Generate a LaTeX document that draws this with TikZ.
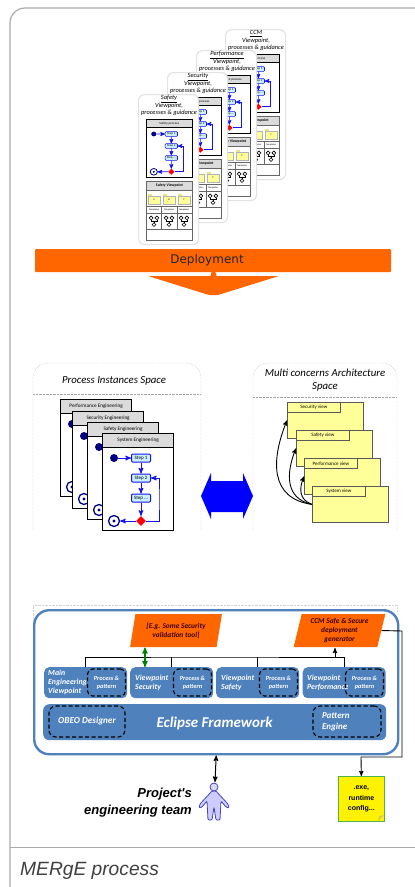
\documentclass[tikz,border=0pt]{standalone}
\usepackage{fontspec}
\setmainfont{Carlito}
\newfontfamily\arialfont{Liberation Sans}
\newfontfamily\dejafont{DejaVu Sans}
\usepackage{tikz}
\usetikzlibrary{arrows,positioning}
\usetikzlibrary{shapes.geometric}
\definecolor{framegray}{HTML}{ABABAB}
\definecolor{deployorange}{HTML}{FF6600}
\definecolor{mergeblue}{HTML}{4F81BD}
\definecolor{flowblue}{HTML}{1414F0}
\definecolor{flownavy}{HTML}{000080}
\definecolor{noteyellow}{HTML}{FFFF99}
\newcommand{\fsz}[1]{\fontsize{#1}{#1}\selectfont}
\newcommand{\fszb}[2]{\fontsize{#1}{#2}\selectfont}
\tikzset{
    %Define standard arrow tip
    >=stealth',
    %Define style for the dotted space panels
    spacebox/.style={
           draw=gray!70, densely dotted},
    %Define style for the cards
    cardframe/.style={
           rectangle,
           draw=black, line width=1.2pt,
           fill=white,
           inner sep=0pt,
           anchor=north west,
           minimum width=71,
           minimum height=97},
    cardhead/.style={
           cardframe,
           fill=gray!28,
           minimum height=14,
           font=\fsz{5.2}},
    stepbox/.style={
           rectangle,
           rounded corners=1pt,
           draw=flowblue, line width=1pt,
           fill=cyan!20,
           inner sep=0pt,
           minimum width=19,
           minimum height=8,
           font=\fsz{5}},
    startdot/.style={
           circle, fill=flownavy, inner sep=0pt, minimum size=8},
    enddot/.style={
           circle, draw=flownavy, line width=1.3pt, fill=white,
           inner sep=0pt, minimum size=11,
           path picture={\fill[flownavy] (path picture bounding box.center) circle (1.7);}},
    decision/.style={
           diamond, fill=red, inner sep=0pt, minimum size=10},
    % Define arrow style
    flow/.style={
           ->, draw=flowblue, line width=1pt},
    %Define viewpoint card styles
    cardpaper/.style={
           rectangle, rounded corners=6pt,
           draw=gray!22, line width=1.2pt,
           fill=white, inner sep=0pt, anchor=north west,
           minimum width=60, minimum height=150},
    smallcard/.style={
           xscale=.65, yscale=.6, transform shape,
           cardframe/.append style={line width=.7pt},
           stepbox/.append style={line width=.6pt},
           enddot/.append style={line width=.8pt},
           flow/.append style={line width=.7pt}},
    viewframe/.style={
           rectangle, draw=gray!80!black, line width=.8pt, fill=white,
           inner sep=0pt, anchor=north west},
    folderbox/.style={
           rectangle, fill=noteyellow, draw=gray!60, line width=.2pt,
           inner sep=0pt, minimum width=12, minimum height=8,
           font=\fsz{2.5}},
    %Define yellow views
    viewnote/.style={
           rectangle, draw=gray!70!black, line width=.8pt,
           fill=noteyellow, inner sep=0pt, anchor=north west,
           minimum width=76, minimum height=36},
    viewtab/.style={
           viewnote, minimum width=53, minimum height=10, font=\fsz{5}},
    %Define the blue tool boxes
    vpbox/.style={
           rectangle, rounded corners=5pt,
           fill=mergeblue, inner sep=0pt, anchor=north west,
           minimum width=83, minimum height=31},
    vptext/.style={
           text=white, align=left, inner sep=0pt, anchor=west,
           font=\bfseries\itshape\fszb{7.8}{9}},
    patternbox/.style={
           rectangle, rounded corners=5pt,
           draw=black, line width=1.1pt, dash pattern=on 4pt off 2.5pt,
           text=white, align=center, inner sep=0pt,
           font=\bfseries\itshape\fszb{6.3}{8},
           minimum width=38, minimum height=27},
    toolshape/.style={
           trapezium, trapezium left angle=75.6, trapezium right angle=104.4,
           trapezium stretches=true,
           fill=deployorange, inner sep=0pt, align=center,
           minimum width=92, minimum height=33,
           text=black!75!red,
           font=\bfseries\itshape\fszb{7.4}{8.8}},
    busline/.style={
           draw=black, line width=.9pt},
    pil/.style={
           <->, draw=black, line width=1pt},
    %Define the pictures used many times
    pics/procard/.style={code={
       \node[cardframe] (-box) at (0,0) {};
       \node[cardhead] (-head) at (0,0) {#1};
       \node[startdot] (-start) at (12,25) {};
       \node[stepbox] (-one) at (39,25) {Step 1};
       \node[stepbox] (-two) at (39,45) {Step 2};
       \node[stepbox] (-three) at (39,65) {Step ...};
       \node[decision] (-dec) at (39,88) {};
       \node[enddot] (-end) at (12,88) {};
       \coordinate (-back) at (57,66);
       \draw[flow] (-start) -- (-one);
       \draw[flow] (-one) -- (-two);
       \draw[flow] (-two) -- (-three);
       \draw[flow] (-three) -- (-dec);
       \draw[flow] (-dec) -- (-end);
       \draw[flow] (-dec) -| (-back) |- (-two);
    }},
    pics/tmplicon/.style={code={
       \draw[line width=.6pt, fill=white] (-2.4,-2.6) circle (1.6) (2.4,-2.6) circle (1.6) (0,3) circle (1.6);
       \draw[line width=.6pt] (-2.4,-1) -- (-2.4,.6) -- (2.4,.6) -- (2.4,-1) (0,.6) -- (0,1.4);
    }},
    pics/vpcard/.style={code={
       \node[cardpaper] (-paper) at (0,0) {};
       \node[align=center, inner sep=0pt, font=\itshape\fszb{6.4}{7.5}] (-title) at (31,11.5)
          {\underline{#1}\\Viewpoint,\\processes \& guidance};
       \pic[smallcard] (-flow) at (8,25) {procard={#1 process}};
       \node[viewframe, minimum width=46, minimum height=59] (-view) at (8,87) {};
       \node[viewframe, fill=gray!28, minimum width=46, minimum height=9, font=\bfseries\fsz{3.8}] (-viewhead) at (8,87) {#1 Viewpoint};
       \draw[gray!80!black, line width=.6pt] (8,112) -- (54,112) (8,135) -- (54,135);
       \draw[gray!80!black, line width=.3pt] (8,119) -- (54,119);
       \draw[gray!80!black, line width=.6pt] (23.5,112) -- (23.5,135) (39,112) -- (39,135);
       \foreach \cx/\cname/\clab in {16/a/A,31/b/B,46/c/C}{
          \fill[noteyellow!90!black] (\cx-6,100) rectangle (\cx-2,102);
          \node[folderbox] (-fold\cname) at (\cx,106) {\clab};
          \node[font=\fsz{2.4}, inner sep=0pt] (-tmpl\cname) at (\cx,115.5) {Templates};
          \pic[scale=1.2] (-icon\cname) at (\cx,127) {tmplicon};
       }
    }}
}

\begin{document}
\begin{tikzpicture}[x=1pt,y=-1pt]
 \useasboundingbox (0,0) rectangle (415,887);
 \clip (0,0) rectangle (415,887);
 \fill[white] (0,0) rectangle (415,887);
 % outer frame
 \draw[framegray, line width=1.2pt, rounded corners=15pt] (10,8) rectangle (440,905);
 \draw[framegray, line width=.9pt] (10,847) -- (415,847);
 \node[anchor=west, inner sep=0pt, text=black!75, font=\arialfont\itshape\fsz{19.2}] (caption) at (20,871) {MERgE process};

 %viewpoint cards, last one goes on top
 \pic (ccm) at (225,29) {vpcard={CCM}};
 \pic (perf) at (196,50) {vpcard={Performance}};
 \pic (sec) at (167,72) {vpcard={Security}};
 \pic (safe) at (138,94) {vpcard={Safety}};

 %deployment bar and its arrow
 \node[rectangle, fill=deployorange, rounded corners=1pt, inner sep=0pt, minimum width=356, minimum height=23,
   text=black!85, font=\dejafont\fsz{12}] (deploy) at (213,260.5) {\hspace*{-12pt}Deployment};
 \fill[deployorange, rounded corners=1pt] (211,272) -- (216,272) -- (216,276) -- (279,276) -- (218,295) -- (209,295) -- (148,276) -- (211,276) -- cycle;

 %process instances space
 \draw[spacebox, rounded corners=15pt] (33,530) -- (33,363) -- (201,363) -- (201,530);
 \draw[spacebox] (33,394) -- (201,394);
 \node[font=\itshape\fsz{10.8}, inner sep=0pt] (pispace) at (114,381) {Process Instances Space};
 \pic (perfeng) at (60,399) {procard={Performance Engineering}};
 \pic (seceng) at (72,411) {procard={Security Engineering}};
 \pic (safeeng) at (87,422) {procard={Safety Engineering}};
 \pic (syseng) at (102,433) {procard={System Engineering}};

 %multi concerns space
 \draw[spacebox, rounded corners=15pt] (253,530) -- (253,363) -- (397,363) -- (397,530);
 \draw[spacebox] (253,397) -- (397,397);
 \node[align=center, font=\itshape\fszb{10.8}{13}, inner sep=0pt] (mcspace) at (325,380.5) {Multi concerns Architecture\\Space};
 \foreach \vname/\vx/\vy/\vlab in {secview/287/402/Security view,safeview/296/430/Safety view,perfview/304/458/Performance view,sysview/312/486/System view}{
   \node[viewnote] (\vname) at (\vx,\vy) {};
   \node[viewtab] (\vname tab) at (\vx,\vy) {\vlab};
 }
 \draw[->, line width=.9pt] (sysview.west) to[out=172,in=-112,looseness=1.25] (secview.west);
 \draw[->, line width=.9pt] (sysview.west) to[out=168,in=-112,looseness=1.2] (safeview.west);
 \draw[->, line width=.9pt] (sysview.west) to[out=160,in=-112,looseness=1.2] (perfview.west);

 %blue exchange arrow
 \fill[blue] (201,496) -- (211,473) -- (211,481) -- (243,481) -- (243,473) -- (253,496) -- (243,519) -- (243,512) -- (211,512) -- (211,519) -- cycle;

 %tool frame
 \draw[gray!35, densely dotted] (33,620) -- (33,605) -- (397,605) -- (397,612);
 \node[rectangle, rounded corners=15pt, draw=mergeblue, line width=2.4pt, fill=white, inner sep=0pt,
   anchor=north west, minimum width=364, minimum height=144] (toolframe) at (33,609) {};
 \node[toolshape] (valtool) at (176,630.5) {[E.g. Some Security\\validation tool]};
 \node[toolshape] (ccmgen) at (339.5,630.5) {CCM Safe \& Secure\\deployment\\generator};

 \node[vpbox] (mainvp) at (44,667) {};
 \node[vpbox] (secvp) at (130,667) {};
 \node[vpbox] (safevp) at (216,667) {};
 \node[vpbox] (perfvp) at (302.5,667) {};
 \node[vptext] (mainlab) at (48,682.5) {Main\\Engineering\\Viewpoint};
 \node[vptext] (seclab) at (135,682.5) {Viewpoint\\Security};
 \node[vptext] (safelab) at (221,682.5) {Viewpoint\\Safety};
 \node[vptext] (perflab) at (307,682.5) {Viewpoint\\Performance};
 \foreach \pname/\px in {mainpat/106.5,secpat/192.5,safepat/278.5,perfpat/364.5}{
   \node[patternbox] (\pname) at (\px,682.5) {Process \&\\pattern};
 }
 \node[vpbox, rounded corners=6pt, minimum width=343, minimum height=36] (eclipse) at (43,704) {};
 \node[patternbox, font=\bfseries\itshape\fsz{9.2}, minimum width=76, minimum height=31, rounded corners=7pt] (obeo) at (87,721.5) {OBEO Designer};
 \node[patternbox, font=\bfseries\itshape\fszb{9}{11}, align=left, text width=50, minimum width=68, minimum height=31, rounded corners=7pt] (patengine) at (347,721.5) {Pattern\\Engine};
 \node[text=white, inner sep=0pt, font=\bfseries\itshape\fsz{15}] (eclipselab) at (214.5,723) {Eclipse Framework};

 %bus between viewpoints and tools
 \coordinate (bus) at (215,657);
 \coordinate (valport) at (145,647.5);
 \coordinate (ccmport) at (335,648);
 \draw[busline] (mainvp.north) |- (bus) -| (perfvp.north);
 \draw[busline] (secvp.north) -- (secvp.north |- bus);
 \draw[busline] (safevp.north) -- (safevp.north |- bus);
 \draw[busline, ->] (ccmport |- bus) -- (ccmport);
 \draw[<->, draw=green!50!black, line width=1.2pt] (valport) -- (valport |- secvp.north);

 %generated files
 \node[rectangle, draw=gray!60!green, line width=.7pt, fill=yellow, inner sep=0pt, align=center, anchor=north west,
   minimum width=46, minimum height=45, font=\arialfont\bfseries\fszb{7}{10.5}] (outnote) at (338,776) {.exe,\\runtime\\config...};
 \fill[yellow!60!gray] (384,815) -- (378,821) -- (379,816) -- cycle;
 \coordinate (genbend) at (402,631);
 \coordinate (notebend) at (361,757);
 \draw[busline, ->] (ccmgen.east) -- (genbend) |- (notebend) -- (outnote.north);

 %team
 \coordinate (teamport) at (215,782);
 \draw[pil] (toolframe.south) -- (teamport);
 \node[inner sep=0pt, align=right, font=\arialfont\bfseries\itshape\fszb{13}{17}, anchor=east] (teamlab) at (192,802.5) {Project's\\engineering team};
 \begin{scope}[shift={(214,783)}]
 \draw[fill=blue!20, draw=blue!45!gray, line width=.8pt, rounded corners=1pt]
   (-2,8) -- (-14,21) -- (-15,25) -- (-12,24) -- (-7,18) -- (-6,37) -- (-2,37) -- (0,24) -- (2,37) -- (6,37) -- (7,18) -- (12,24) -- (15,25) -- (14,21) -- (2,8) -- cycle;
 \draw[fill=blue!15, draw=blue!45!gray, line width=.8pt] (0,4) circle (4);
 \end{scope}
\end{tikzpicture}
\end{document}
